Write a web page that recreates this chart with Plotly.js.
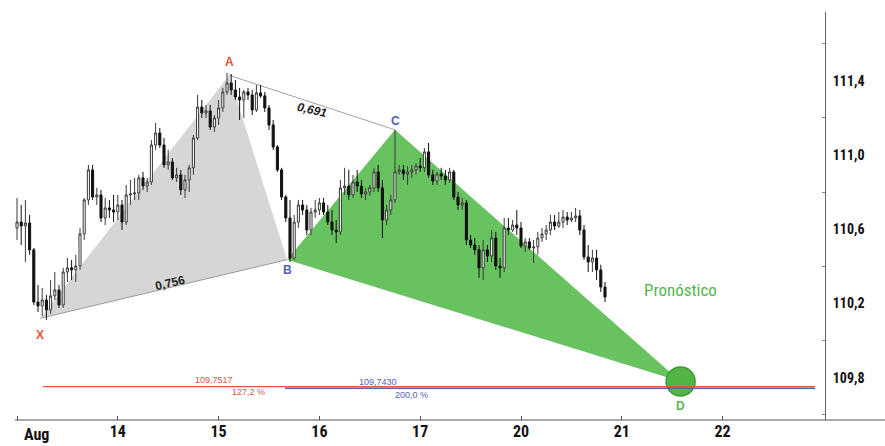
<!DOCTYPE html>
<html>
<head>
<meta charset="utf-8">
<script src="https://cdn.plot.ly/plotly-3.0.1.min.js"></script>
<style>html,body{margin:0;padding:0;background:#fff;}#chart{width:885px;height:446px;}</style>
</head>
<body>
<div id="chart"></div>
<script>
// ---- Hourly candles ----
const openP = [
110.607,110.639,110.618,110.634,110.489,110.208,110.187,110.219,110.165,110.241,110.273,110.192,110.370,110.392,110.381,110.402,110.575,110.758,110.920,110.774,110.785,110.661,110.715,110.704,
110.693,110.731,110.639,110.785,110.790,110.796,110.877,110.833,110.855,111.054,111.119,111.054,110.947,110.963,110.877,110.893,110.812,110.866,110.931,111.092,111.259,111.227,111.238,111.151,
111.200,111.254,111.340,111.389,111.351,111.313,111.297,111.340,111.324,111.243,111.335,111.319,111.254,111.162,111.044,110.920,110.774,110.661,110.445,110.639,110.731,110.704,110.596,110.693,
110.704,110.742,110.693,110.639,110.596,110.586,110.823,110.833,110.785,110.855,110.833,110.790,110.801,110.823,110.909,110.823,110.650,110.704,110.758,110.909,110.920,110.898,110.909,110.920,
110.941,110.931,111.017,110.893,110.860,110.898,110.887,110.866,110.909,110.774,110.731,110.742,110.542,110.515,110.489,110.392,110.489,110.456,110.553,110.402,110.392,110.607,110.596,110.623,
110.607,110.510,110.532,110.499,110.505,110.553,110.575,110.596,110.639,110.618,110.639,110.666,110.650,110.661,110.672,110.596,110.451,110.424,110.445,110.381,110.289];
const highP = [
110.769,110.731,110.758,110.677,110.499,110.300,110.284,110.246,110.327,110.370,110.300,110.392,110.445,110.435,110.462,110.607,110.769,110.947,110.947,110.823,110.812,110.769,110.758,110.785,
110.785,110.758,110.839,110.866,110.877,110.893,110.909,110.877,111.081,111.173,111.146,111.092,111.028,110.984,110.931,110.920,110.893,110.947,111.108,111.324,111.297,111.270,111.270,111.216,
111.297,111.362,111.443,111.437,111.405,111.362,111.351,111.362,111.351,111.378,111.378,111.340,111.270,111.189,111.054,110.931,110.785,110.758,110.677,110.758,110.758,110.731,110.715,110.758,
110.769,110.769,110.731,110.704,110.650,110.866,110.931,110.920,110.893,110.920,110.866,110.823,110.839,110.931,110.947,110.866,110.731,110.785,111.135,110.947,110.947,110.941,110.947,110.957,
110.984,111.038,111.065,110.920,110.909,110.931,110.920,110.931,110.920,110.801,110.769,110.758,110.569,110.553,110.515,110.542,110.515,110.596,110.586,110.445,110.661,110.661,110.650,110.704,
110.639,110.553,110.553,110.542,110.586,110.607,110.623,110.677,110.677,110.693,110.704,110.693,110.693,110.715,110.704,110.623,110.515,110.489,110.489,110.409,110.316];
const lowP = [
110.542,110.515,110.424,110.462,110.192,110.154,110.133,110.111,110.144,110.219,110.176,110.176,110.316,110.327,110.316,110.381,110.542,110.731,110.758,110.731,110.639,110.623,110.661,110.639,
110.650,110.596,110.623,110.731,110.758,110.758,110.812,110.801,110.839,111.028,111.038,110.931,110.920,110.866,110.855,110.785,110.769,110.801,110.893,111.081,111.200,111.200,111.135,111.125,
111.162,111.232,111.324,111.324,111.297,111.189,111.200,111.297,111.216,111.232,111.308,111.232,111.135,111.028,110.909,110.758,110.639,110.424,110.435,110.607,110.677,110.569,110.569,110.661,
110.677,110.677,110.623,110.569,110.526,110.569,110.785,110.758,110.769,110.801,110.769,110.758,110.780,110.801,110.801,110.553,110.623,110.677,110.742,110.893,110.866,110.839,110.877,110.893,
110.909,110.909,110.877,110.839,110.839,110.866,110.839,110.850,110.758,110.704,110.704,110.515,110.499,110.462,110.338,110.327,110.424,110.424,110.381,110.338,110.370,110.569,110.586,110.569,
110.499,110.478,110.489,110.418,110.462,110.532,110.542,110.569,110.596,110.607,110.607,110.623,110.639,110.639,110.569,110.435,110.370,110.370,110.327,110.262,110.208];
const closeP = [
110.639,110.618,110.634,110.489,110.208,110.187,110.219,110.165,110.241,110.273,110.192,110.370,110.392,110.381,110.402,110.575,110.758,110.920,110.774,110.785,110.661,110.715,110.704,110.693,
110.731,110.639,110.785,110.790,110.796,110.877,110.833,110.855,111.054,111.119,111.054,110.947,110.963,110.877,110.893,110.812,110.866,110.931,111.092,111.259,111.227,111.238,111.151,111.200,
111.254,111.340,111.389,111.351,111.313,111.297,111.340,111.324,111.243,111.335,111.319,111.254,111.162,111.044,110.920,110.774,110.661,110.445,110.639,110.731,110.704,110.596,110.693,110.704,
110.742,110.693,110.639,110.596,110.586,110.823,110.833,110.785,110.855,110.833,110.790,110.801,110.823,110.909,110.823,110.650,110.704,110.758,110.909,110.920,110.898,110.909,110.920,110.941,
110.931,111.017,110.893,110.860,110.898,110.887,110.866,110.909,110.774,110.731,110.742,110.542,110.515,110.489,110.392,110.489,110.456,110.553,110.402,110.392,110.607,110.596,110.623,110.607,
110.510,110.532,110.499,110.505,110.553,110.575,110.596,110.639,110.618,110.639,110.666,110.650,110.661,110.672,110.596,110.451,110.424,110.445,110.381,110.289,110.235];

// ---- X axis: one unit per hourly bar, day labels ----
const dayTickPos = [0, 24, 48, 72, 96, 120, 144, 168];
const dayTickText = ['Aug', '14', '15', '16', '17', '20', '21', '22'];
const priceTicks = [109.8, 110.2, 110.6, 111.0, 111.4];
const priceTickText = ['109,8', '110,2', '110,6', '111,0', '111,4'];

// ---- Harmonic pattern points X A B C D ----
const patLabels = ['X', 'A', 'B', 'C', 'D'];
const patPos = [5.5, 50.5, 64.3, 90, 158];
const patPrice = [110.12, 111.43, 110.436, 111.136, 109.78];
const ratioLabels = ['0,756', '0,691'];

// ---- Projection levels ----
const levelPrice = [109.7517, 109.7430];
const levelText = ['109,7517', '109,7430'];
const levelPct = ['127,2 %', '200,0 %'];
const levelStart = [6.2, 63.8];
const levelEnd = [190, 190];

const forecastText = 'Pronóstico';

const xIdx = openP.map((_, i) => i);
const RED = '#e5533f', BLUE = '#5560b5', GREEN = '#5cb852';
const FONT = 'Roboto Condensed, Liberation Sans Narrow, Roboto, Arial, sans-serif';
const SFONT = 'Liberation Sans, Arial, sans-serif';

const tri = (a, b, c) => 'M' + patPos[a] + ',' + patPrice[a] + ' L' + patPos[b] + ',' + patPrice[b] + ' L' + patPos[c] + ',' + patPrice[c] + ' Z';

const shapes = [
  {type:'path', xref:'x', yref:'y', layer:'below', path:tri(0,1,2), fillcolor:'rgb(214,214,214)', line:{width:0}},
  {type:'path', xref:'x', yref:'y', layer:'below', path:tri(2,3,4), fillcolor:'rgb(104,194,96)', line:{width:0}},
  {type:'line', xref:'x', yref:'y', layer:'below', x0:patPos[0], y0:patPrice[0], x1:patPos[2], y1:patPrice[2], line:{color:'#9a9a9a', width:1}},
  {type:'line', xref:'x', yref:'y', layer:'below', x0:patPos[1], y0:patPrice[1], x1:patPos[3], y1:patPrice[3], line:{color:'#a0a0a0', width:1}},
  {type:'line', xref:'paper', yref:'paper', x0:0, x1:(885-15)/810, y0:0, y1:0, line:{color:'#555', width:1.2}}
];

const traces = [];
traces.push({type:'candlestick', x:xIdx, open:openP, high:highP, low:lowP, close:closeP, whiskerwidth:0,
  increasing:{line:{color:'#3a3a3a', width:1}, fillcolor:'#ffffff'},
  decreasing:{line:{color:'#111111', width:1}, fillcolor:'#111111'}, hoverinfo:'skip'});
traces.push({type:'scatter', mode:'markers', x:[patPos[4]], y:[patPrice[4]],
  marker:{size:29, color:'#52b543', line:{color:'#3d9a33', width:1.5}}, hoverinfo:'skip'});
const levelColors = [RED, BLUE];
levelPrice.forEach((v, k) => {
  traces.push({type:'scatter', mode:'lines', x:[levelStart[k], levelEnd[k]], y:[v, v], line:{color:levelColors[k], width:1.3}, hoverinfo:'skip'});
});

const ann = [];
const patColors = [RED, RED, BLUE, BLUE, GREEN];
const patOff = [-0.09, 0.07, -0.055, 0.048, -0.135];
patLabels.forEach((t, k) => {
  ann.push({x:patPos[k], y:patPrice[k]+patOff[k], text:t, showarrow:false,
    font:{family:SFONT, size:12, weight:'bold', color:patColors[k]}});
});
ann.push({x:36.4, y:110.31, text:ratioLabels[0], textangle:-13, showarrow:false,
  font:{family:SFONT, size:12, weight:'bold', color:'#222'}});
ann.push({x:70.2, y:111.243, text:'<i>'+ratioLabels[1]+'</i>', textangle:13, showarrow:false,
  font:{family:SFONT, size:12, weight:'bold', color:'#222'}});
ann.push({x:47, y:levelPrice[0]+0.036, text:levelText[0], showarrow:false, font:{family:SFONT, size:9, color:RED}});
ann.push({x:55, y:levelPrice[0]-0.028, text:levelPct[0], showarrow:false, font:{family:SFONT, size:9, color:RED}});
ann.push({x:86, y:levelPrice[1]+0.034, text:levelText[1], showarrow:false, font:{family:SFONT, size:9, color:BLUE}});
ann.push({x:94, y:levelPrice[1]-0.036, text:levelPct[1], showarrow:false, font:{family:SFONT, size:9, color:BLUE}});
ann.push({x:158, y:110.273, text:forecastText, showarrow:false, font:{family:FONT, size:17, color:'#55b650'}});
// first day label sits to the right of its tick
ann.push({x:dayTickPos[0], xanchor:'left', xshift:5, y:0, yref:'paper', yanchor:'top', yshift:-3, text:dayTickText[0], showarrow:false,
  font:{family:FONT, size:16, weight:'bold', color:'#111'}});

const layout = {
  width:885, height:446,
  margin:{l:15, r:60, t:12, b:26},
  paper_bgcolor:'#ffffff', plot_bgcolor:'#ffffff',
  showlegend:false,
  xaxis:{range:[-0.476, 192.38], tickmode:'array', tickvals:dayTickPos, ticktext:[''].concat(dayTickText.slice(1)),
    showgrid:false, zeroline:false, showline:false, ticks:'inside', ticklen:4, tickcolor:'#555',
    tickfont:{family:FONT, size:16, weight:'bold', color:'#111'}, rangeslider:{visible:false}, fixedrange:true},
  yaxis:{range:[109.572, 111.771], side:'right', tickmode:'array', tickvals:priceTicks, ticktext:priceTickText,
    showgrid:false, zeroline:false, showline:true, linecolor:'#666', linewidth:1,
    ticks:'', tickfont:{family:FONT, size:14, weight:'bold', color:'#111'}, ticklabelstandoff:4,
    minor:{tickvals:[109.6,110.0,110.4,110.8,111.2,111.6], ticks:'inside', ticklen:3, tickcolor:'#888'}},
  shapes:shapes,
  annotations:ann
};
Plotly.newPlot('chart', traces, layout, {staticPlot:true, displayModeBar:false});
</script>
</body>
</html>
